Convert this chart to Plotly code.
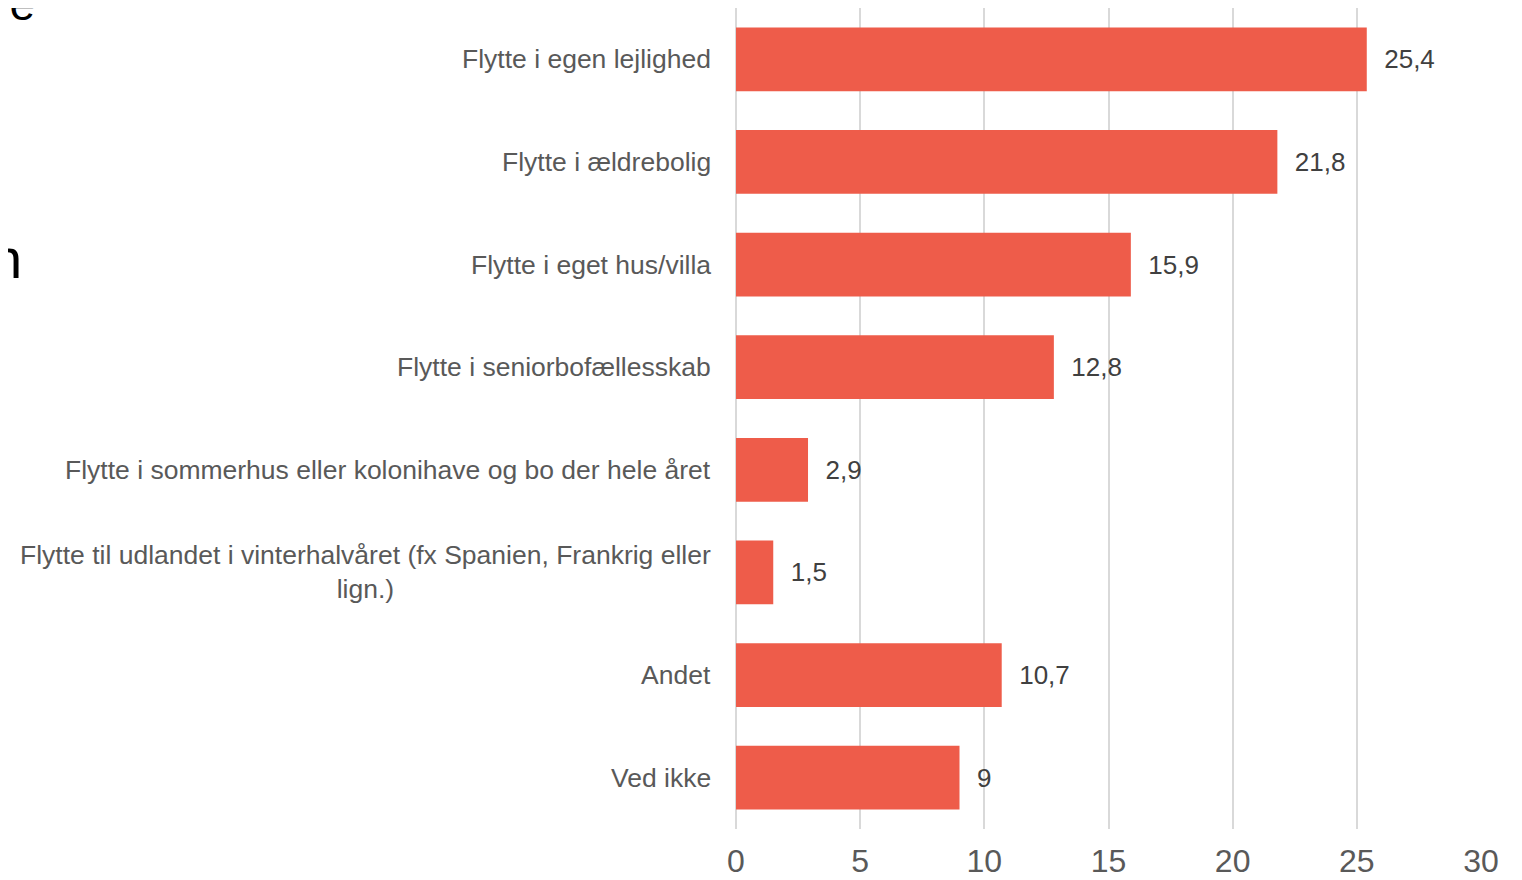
import plotly.graph_objects as go

categories = [
    "Flytte i egen lejlighed",
    "Flytte i ældrebolig",
    "Flytte i eget hus/villa",
    "Flytte i seniorbofællesskab",
    "Flytte i sommerhus eller kolonihave og bo der hele året",
    "Flytte til udlandet i vinterhalvåret (fx Spanien, Frankrig eller<br>lign.)",
    "Andet",
    "Ved ikke",
]
values = [25.4, 21.8, 15.9, 12.8, 2.9, 1.5, 10.7, 9]
x_ticks = [0, 5, 10, 15, 20, 25, 30]

BAR = "#EE5C4A"
GREY = "#595959"
DARK = "#404040"
FONT = "Liberation Sans, Arial, sans-serif"

labels = ["  " + (f"{v:g}".replace(".", ",")) for v in values]

fig = go.Figure(go.Bar(
    x=values, y=list(range(len(categories))), orientation="h",
    marker=dict(color=BAR, line=dict(width=0)),
    width=0.62,
    text=labels, textposition="outside",
    textfont=dict(size=26, color=DARK, family=FONT),
    cliponaxis=False,
))

# page has an 8px body margin, so figure origin is at (8, 8) in the screenshot
OX, OY = 8, 8
PL, PR, PT, PB = 736 - OX, 1481 - OX, 8 - OY, 829 - OY
W, H = 1514, 872
pw, ph = PR - PL, PB - PT

def px_to_paper_x(px):
    return (px - OX - PL) / pw

def px_to_paper_y(py):
    return 1 - (py - OY - PT) / ph

annotations = []
for i, c in enumerate(categories):
    annotations.append(dict(
        x=px_to_paper_x(713), xref="paper", y=i, yref="y", text=c, showarrow=False,
        xanchor="right", yanchor="middle", align="center",
        font=dict(size=26.5, color=GREY, family=FONT),
    ))
# cut-off slide text remnants at the left edge
annotations.append(dict(x=px_to_paper_x(37), xref="paper", y=px_to_paper_y(4), yref="paper",
                        text="ne", showarrow=False, xanchor="right", yanchor="middle",
                        font=dict(size=46, color="#000000", family=FONT)))
annotations.append(dict(x=px_to_paper_x(24), xref="paper", y=px_to_paper_y(258), yref="paper",
                        text="n", showarrow=False, xanchor="right", yanchor="middle",
                        font=dict(size=56, color="#000000", family=FONT)))

fig.update_layout(
    width=W, height=H,
    margin=dict(l=PL, r=W - PR, t=PT, b=H - PB, pad=0),
    paper_bgcolor="white", plot_bgcolor="white",
    showlegend=False,
    separators=", ",
    annotations=annotations,
    xaxis=dict(
        range=[0, 30], tickvals=x_ticks, showgrid=True, gridcolor="#D9D9D9", gridwidth=2,
        zeroline=True, zerolinecolor="#D9D9D9", zerolinewidth=2,
        tickfont=dict(size=32, color=GREY, family=FONT), ticklabelstandoff=10,
        showline=False, fixedrange=True, automargin=False,
    ),
    yaxis=dict(
        range=[len(categories) - 0.5, -0.5], showticklabels=False, showgrid=False,
        zeroline=False, showline=False, automargin=False,
    ),
)

fig.write_html("out.html")
